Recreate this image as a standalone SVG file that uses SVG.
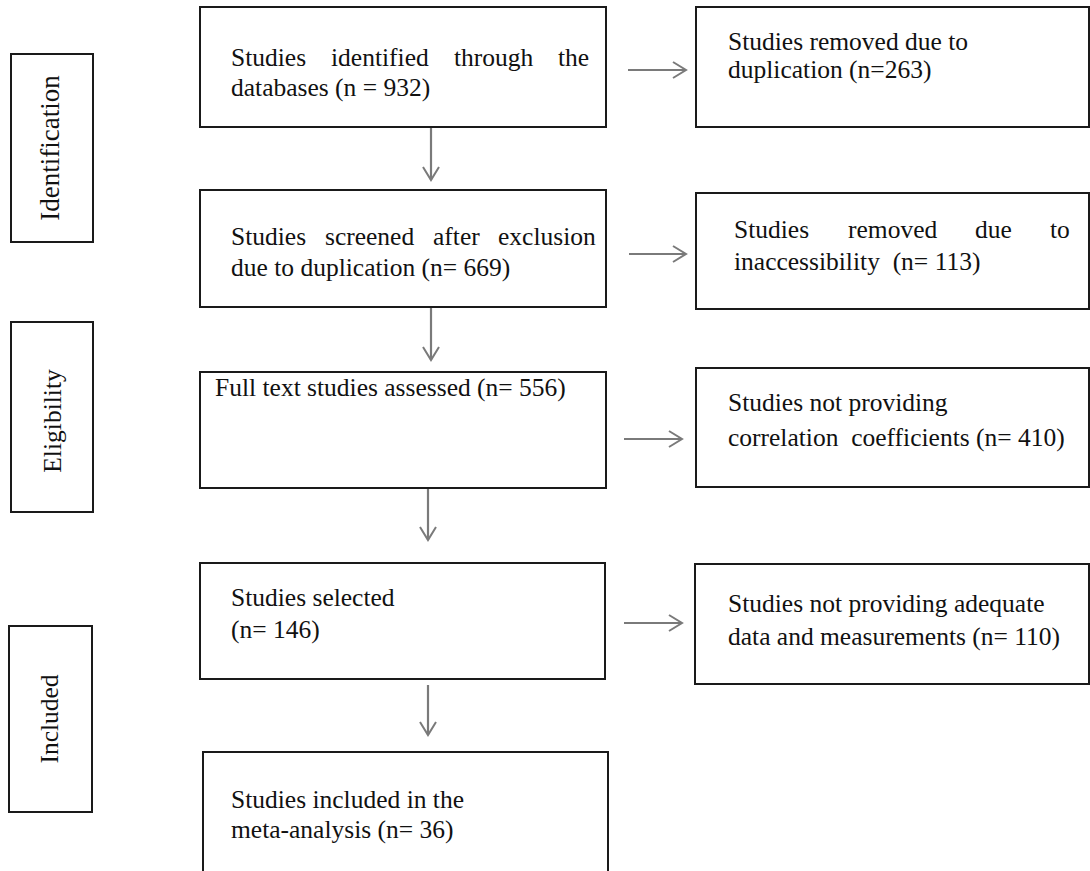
<svg xmlns="http://www.w3.org/2000/svg" width="1090" height="871" viewBox="0 0 1090 871">
<style>
.box{fill:#fff;stroke:#1a1a1a;stroke-width:2}
.t{font-family:"Liberation Serif","Times New Roman",serif;font-size:25.5px;fill:#111}
.conn line{stroke:#7a7a7a;stroke-width:2.2;fill:none}
</style>
<defs>
<marker id="arr" viewBox="0 0 16 18" refX="14" refY="9" markerWidth="16" markerHeight="18" orient="auto" markerUnits="userSpaceOnUse">
<path d="M1,1 L14,9 L1,17" fill="none" stroke="#7a7a7a" stroke-width="2"/>
</marker>
</defs>
<rect width="1090" height="871" fill="#fff"/>

<g id="side-identification">
<rect class="box" x="11" y="54" width="82" height="188"/>
<text class="t" text-anchor="middle" transform="translate(59,148) rotate(-90)" style="font-size:27px">Identification</text>
</g>
<g id="side-eligibility">
<rect class="box" x="11" y="322" width="82" height="190"/>
<text class="t" text-anchor="middle" transform="translate(61,421) rotate(-90)">Eligibility</text>
</g>
<g id="side-included">
<rect class="box" x="9" y="626" width="83" height="186"/>
<text class="t" text-anchor="middle" transform="translate(58,719) rotate(-90)">Included</text>
</g>

<g id="identified">
<rect class="box" x="200" y="7" width="406" height="120"/>
<text class="t" y="66"><tspan x="231">Studies</tspan><tspan x="331">identified</tspan><tspan x="454">through</tspan><tspan x="558">the</tspan></text>
<text class="t" x="231" y="96">databases (n = 932)</text>
</g>
<g id="removed-dup">
<rect class="box" x="696" y="7" width="393" height="120"/>
<text class="t" x="728" y="50">Studies removed due to</text>
<text class="t" x="728" y="78">duplication (n=263)</text>
</g>

<g id="screened">
<rect class="box" x="200" y="190" width="406" height="117"/>
<text class="t" y="245"><tspan x="231">Studies</tspan><tspan x="325">screened</tspan><tspan x="433">after</tspan><tspan x="498">exclusion</tspan></text>
<text class="t" x="231" y="276">due to duplication (n= 669)</text>
</g>
<g id="removed-inacc">
<rect class="box" x="696" y="193" width="393" height="116"/>
<text class="t" y="238"><tspan x="734">Studies</tspan><tspan x="848">removed</tspan><tspan x="975">due</tspan><tspan x="1050">to</tspan></text>
<text class="t" x="734" y="270" xml:space="preserve">inaccessibility  (n= 113)</text>
</g>

<g id="fulltext">
<rect class="box" x="200" y="372" width="406" height="116"/>
<text class="t" x="215" y="396">Full text studies assessed (n= 556)</text>
</g>
<g id="no-corr">
<rect class="box" x="696" y="368" width="393" height="119"/>
<text class="t" x="728" y="411">Studies not providing</text>
<text class="t" x="728" y="446" xml:space="preserve">correlation  coefficients (n= 410)</text>
</g>

<g id="selected">
<rect class="box" x="200" y="563" width="405" height="116"/>
<text class="t" x="231" y="606">Studies selected</text>
<text class="t" x="231" y="638">(n= 146)</text>
</g>
<g id="no-data">
<rect class="box" x="695" y="564" width="394" height="120"/>
<text class="t" x="728" y="612">Studies not providing adequate</text>
<text class="t" x="728" y="645">data and measurements (n= 110)</text>
</g>

<g id="included">
<rect class="box" x="203" y="752" width="405" height="130"/>
<text class="t" x="231" y="808">Studies included in the</text>
<text class="t" x="231" y="838">meta-analysis (n= 36)</text>
</g>

<g id="connectors" class="conn">
<line x1="628" y1="70" x2="686" y2="70" marker-end="url(#arr)"/>
<line x1="629" y1="254" x2="686" y2="254" marker-end="url(#arr)"/>
<line x1="624" y1="439" x2="682" y2="439" marker-end="url(#arr)"/>
<line x1="624" y1="623" x2="682" y2="623" marker-end="url(#arr)"/>
<line x1="431" y1="128" x2="431" y2="180" marker-end="url(#arr)"/>
<line x1="431" y1="308" x2="431" y2="360" marker-end="url(#arr)"/>
<line x1="428" y1="489" x2="428" y2="540" marker-end="url(#arr)"/>
<line x1="428" y1="685" x2="428" y2="735" marker-end="url(#arr)"/>
</g>
</svg>
